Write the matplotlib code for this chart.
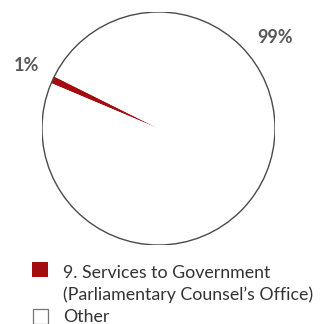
import numpy as np
import matplotlib.pyplot as plt
from matplotlib.patches import Circle, Rectangle

# shares of the total
labels = ["9. Services to Government\n(Parliamentary Counsel\u2019s Office)", "Other"]
values = [1, 99]
pct_text = ["1%", "99%"]
colors = ["#A20D12", "white"]

plt.rcParams['font.family'] = ['Lato', 'DejaVu Sans']

fig = plt.figure(figsize=(3.24, 3.24), dpi=100)
W = H = 324.0

# pie axes placed in pixel terms (centre, radius)
cx, cy, r = 158.5, 128.5, 116.5
ax = fig.add_axes([(cx - r) / W, 1 - (cy + r) / H, 2 * r / W, 2 * r / H])

wedges, _ = ax.pie(values, colors=colors, startangle=153.5, counterclock=True,
                   radius=1, wedgeprops=dict(linewidth=0))
ax.add_patch(Circle((0, 0), 1, fill=False, edgecolor='#4a4a4a', linewidth=1.0))
# pie() pads the limits, so reset them to the unit circle
ax.set_xlim(-1, 1)
ax.set_ylim(-1, 1)
ax.set_aspect('equal')
ax.axis('off')

# percentage labels just outside the ring
label_pos = [(1.26, 154.5), (1.272, 37.9)]
for txt, (d, ang) in zip(pct_text, label_pos):
    a = np.deg2rad(ang)
    ax.text(d * np.cos(a), d * np.sin(a), txt, ha='center', va='center',
            fontsize=13, fontweight='bold', color='#585858', clip_on=False)

# legend drawn by hand so the swatch lines up with the first text line
sw = 15.5
fig.add_artist(Rectangle((32 / W, 1 - 277 / H), sw / W, sw / H, transform=fig.transFigure,
                         facecolor=colors[0], edgecolor='none'))
fig.add_artist(Rectangle((32.5 / W, 1 - 324 / H), sw / W, sw / H, transform=fig.transFigure,
                         facecolor='white', edgecolor='#777777', linewidth=0.9))
first, second = labels[0].split("\n")
for y, t in [(278, first), (300, second), (322, labels[1])]:
    fig.text(63 / W, 1 - y / H, t, ha='left', va='baseline', fontsize=12.8, color='#333333')

fig.savefig('out.png', dpi=100)
